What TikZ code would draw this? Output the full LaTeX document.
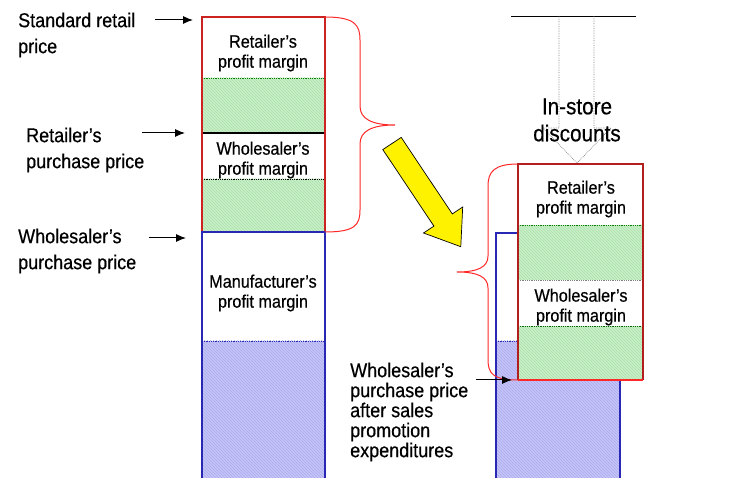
\documentclass[tikz,border=0pt]{standalone}
\usepackage{fontspec}
\setmainfont{Liberation Sans}[FakeStretch=0.9,FakeBold=0.5]
\usepackage{tikz}
\usetikzlibrary{arrows.meta,patterns}

\definecolor{bandgreen}{RGB}{200,240,200}
\definecolor{hatchgreen}{RGB}{172,222,172}
\definecolor{bandblue}{RGB}{196,196,250}
\definecolor{hatchblue}{RGB}{172,172,236}
\definecolor{marginred}{RGB}{204,34,34}
\definecolor{boxred}{RGB}{178,30,30}
\definecolor{bracered}{RGB}{255,40,40}
\definecolor{columnblue}{RGB}{40,40,180}

\begin{document}
\begin{tikzpicture}[x=1pt, y=-1pt, >={Latex[length=10pt,width=8pt]},
  pricetext/.style={font=\fontsize{20}{26}\selectfont, align=left, inner sep=0pt, anchor=west},
  boxtext/.style={font=\fontsize{18}{20}\selectfont, align=center, inner sep=0pt},
  greenband/.style={fill=bandgreen, postaction={pattern=north west lines, pattern color=hatchgreen}},
  blueband/.style={fill=bandblue, postaction={pattern=north west lines, pattern color=hatchblue}},
  bandline/.style={densely dotted, line width=0.8pt},
  bracket/.style={bracered, line width=1pt}]
  \useasboundingbox (0,0) rectangle (748,478);

  % left column
  \path[greenband] (202,78) rectangle (325,133);
  \path[greenband] (202,179) rectangle (325,232);
  \path[blueband] (202,341) rectangle (325,478);
  \draw[bandline, green!50!black] (202,78) -- (325,78);
  \draw[line width=1.4pt] (202,133) -- (325,133);
  \draw[bandline] (202,179) -- (325,179);
  \draw[bandline, columnblue] (202,341) -- (325,341);
  \draw[marginred, line width=1.3pt] (202,232) |- (325,17) -- (325,232);
  \draw[columnblue, line width=1.3pt] (202,478) |- (325,232) -- (325,478);

  \node[boxtext] (leftretail) at (263,53) {Retailer’s\\profit margin};
  \node[boxtext] (leftwhole) at (263,160) {Wholesaler’s\\profit margin};
  \node[boxtext] (leftmanu) at (263,293) {Manufacturer’s\\profit margin};

  \draw[bracket] (325,17) .. controls (355,17) and (360,25) .. (360,40) -- (360,106)
    .. controls (360,119) and (372,125) .. (395,125)
    .. controls (372,125) and (360,131) .. (360,144) -- (360,210)
    .. controls (360,225) and (355,232) .. (325,232);

  % price labels
  \node[pricetext] (stdprice) at (18,35) {Standard retail\\price};
  \node[pricetext] (retailprice) at (26,150) {Retailer’s\\purchase price};
  \node[pricetext] (wholeprice) at (18,251) {Wholesaler’s\\purchase price};
  \node[pricetext, font=\fontsize{20}{20}\selectfont] (promoprice) at (350,412)
    {Wholesaler’s\\purchase price\\after sales\\promotion\\expenditures};

  \coordinate (stdhead) at (193,20);
  \coordinate (retailhead) at (185,133);
  \coordinate (wholehead) at (186,238);
  \coordinate (promohead) at (512,380);

  % right column
  \path[blueband] (496,341) rectangle (620,478);
  \draw[bandline, columnblue] (496,341) -- (620,341);
  \draw[columnblue, line width=1.3pt] (496,478) |- (620,233) -- (620,478);

  \draw[bracket] (518,164) .. controls (494,164) and (488,172) .. (488,186) -- (488,256)
    .. controls (488,267) and (478,272) .. (457,272)
    .. controls (478,272) and (488,277) .. (488,288) -- (488,360)
    .. controls (488,374) and (494,380) .. (518,380);

  \path[greenband] (518,225) rectangle (643,280);
  \path[greenband] (518,326) rectangle (643,380);
  \fill[white] (518,164) rectangle (643,225);
  \fill[white] (518,280) rectangle (643,326);
  \draw[bandline, green!50!black] (518,225) -- (643,225);
  \draw[bandline, gray] (518,280) -- (643,280);
  \draw[bandline, green!40!black] (518,326) -- (643,326);
  \draw[boxred, line width=1.3pt] (518,380) |- (643,164) -- (643,380);
  \draw[bracered, line width=1.3pt] (518,380) -- (643,380);

  \node[boxtext] (rightretail) at (581,199) {Retailer’s\\profit margin};
  \node[boxtext] (rightwhole) at (581,307) {Wholesaler’s\\profit margin};

  % discounts
  \draw[line width=0.9pt] (511,16) -- (636,16);
  \draw[gray, densely dotted, line width=0.7pt] (559,16) -- (559,128) -- (543,128) -- (577,163)
    -- (611,128) -- (594,128) -- (594,16);
  \node[font=\fontsize{23}{27}\selectfont, align=center, inner sep=0pt] (discounts) at (577,120)
    {In-store\\discounts};

  % yellow arrow
  \draw[fill=yellow, line width=0.7pt] (401.2,137.4) -- (452.3,213.9) -- (462.7,207) -- (460.8,246.7)
    -- (423.5,233) -- (433.9,226.1) -- (382.8,149.6) -- cycle;

  \path[->, line width=1pt]
  ([xshift=-38pt]stdhead) edge (stdhead)
  ([xshift=-43pt]retailhead) edge (retailhead)
  ([xshift=-37pt]wholehead) edge (wholehead)
  ([xshift=-36pt]promohead) edge (promohead)
  ;
\end{tikzpicture}
\end{document}
